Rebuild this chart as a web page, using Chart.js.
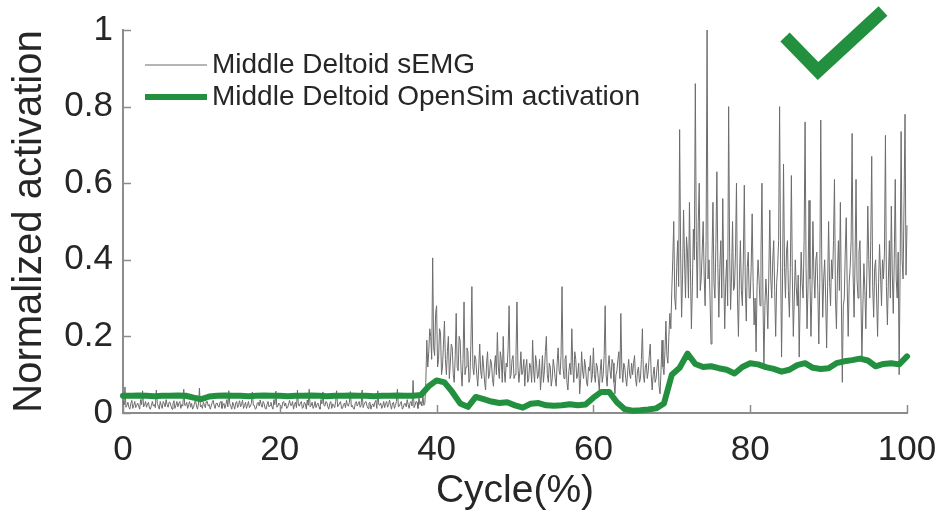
<!DOCTYPE html>
<html><head><meta charset="utf-8">
<script src="https://cdn.jsdelivr.net/npm/chart.js@4.4.1/dist/chart.umd.min.js"></script>
<style>html,body{margin:0;padding:0;background:#fff;overflow:hidden}canvas{display:block}</style>
</head><body>
<canvas id="c" width="943" height="517"></canvas>
<script>
// ---------- data ----------
const seriesNames = ['Middle Deltoid sEMG', 'Middle Deltoid OpenSim activation'];
const xTickLabels = ['0', '20', '40', '60', '80', '100'];
const yTickLabels = ['0', '0.2', '0.4', '0.6', '0.8', '1'];
const xTitle = 'Cycle(%)';
const yTitle = 'Normalized activation';

// sEMG samples, evenly spaced over 0..100 % of the cycle (8 per 1 %)
const semgValues = [
  // 0 - 38 %
  0.03,0.022,0.068,0.015,0.02,0.028,0.015,0.01, 0.025,0.033,0.012,0.02,0.03,0.014,0.02,0.026, 0.018,0.01,0.035,0.022,0.058,0.016,0.02,0.03, 0.015,0.024,0.028,0.012,0.01,0.02,0.03,0.018,
  0.022,0.014,0.06,0.025,0.018,0.01,0.03,0.02, 0.012,0.03,0.025,0.016,0.035,0.022,0.015,0.028, 0.028,0.018,0.01,0.024,0.032,0.012,0.02,0.03, 0.016,0.025,0.03,0.012,0.022,0.018,0.062,0.02,
  0.02,0.028,0.012,0.022,0.03,0.015,0.025,0.01, 0.015,0.026,0.034,0.018,0.01,0.024,0.065,0.016, 0.02,0.012,0.028,0.022,0.014,0.03,0.03,0.018, 0.022,0.01,0.018,0.027,0.033,0.02,0.012,0.025,
  0.026,0.018,0.015,0.028,0.03,0.012,0.02,0.025, 0.012,0.022,0.035,0.016,0.058,0.024,0.018,0.01, 0.028,0.02,0.01,0.026,0.03,0.014,0.022,0.032, 0.016,0.024,0.033,0.012,0.02,0.028,0.012,0.02,
  0.03,0.014,0.018,0.025,0.055,0.02,0.02,0.01, 0.012,0.026,0.028,0.018,0.034,0.022,0.015,0.03, 0.025,0.012,0.01,0.022,0.03,0.016,0.02,0.028, 0.016,0.01,0.035,0.022,0.057,0.015,0.018,0.026,
  0.022,0.016,0.012,0.028,0.03,0.018,0.026,0.012, 0.014,0.024,0.033,0.02,0.02,0.03,0.01,0.022, 0.028,0.014,0.06,0.02,0.018,0.026,0.03,0.012, 0.015,0.028,0.025,0.01,0.034,0.02,0.062,0.016,
  0.02,0.028,0.012,0.018,0.03,0.014,0.022,0.026, 0.016,0.01,0.035,0.024,0.055,0.02,0.018,0.03, 0.028,0.016,0.01,0.025,0.03,0.012,0.024,0.02, 0.014,0.03,0.058,0.016,0.02,0.026,0.03,0.012,
  0.012,0.022,0.026,0.014,0.033,0.02,0.018,0.028, 0.056,0.016,0.02,0.012,0.01,0.025,0.03,0.018, 0.024,0.03,0.015,0.02,0.06,0.014,0.022,0.028, 0.03,0.018,0.012,0.026,0.028,0.01,0.02,0.024,
  0.016,0.028,0.033,0.012,0.058,0.022,0.02,0.026, 0.012,0.018,0.03,0.014,0.025,0.03,0.015,0.022, 0.034,0.02,0.01,0.026,0.028,0.012,0.02,0.03, 0.062,0.016,0.018,0.025,0.03,0.01,0.014,0.024,
  0.025,0.016,0.035,0.022,0.012,0.028,0.03,0.018, 0.085,0.014,0.02,0.03,0.028,0.012,0.04,0.022,
  // 38 - 41 %
  0.03,0.018,0.045,0.02,0.025,0.08,0.19,0.12, 0.16,0.22,0.2,0.14,0.405,0.17,0.15,0.26,
  0.28,0.12,0.14,0.22,0.21,0.1,0.12,0.18,
  // 41 - 45 %
  0.24,0.14,0.1,0.16,0.2,0.09,0.13,0.18, 0.17,0.1,0.08,0.15,0.26,0.12,0.11,0.2, 0.19,0.11,0.07,0.14,0.29,0.1,0.12,0.17, 0.16,0.08,0.09,0.18,0.33,0.12,0.1,0.15,
  // 45 - 50 %
  0.14,0.1,0.07,0.12,0.18,0.11,0.09,0.15, 0.12,0.08,0.06,0.13,0.16,0.09,0.1,0.14, 0.13,0.09,0.07,0.12,0.15,0.1,0.21,0.12, 0.09,0.16,0.14,0.08,0.2,0.11,0.08,0.13, 0.12,0.17,0.28,0.09,0.1,0.14,0.15,0.09,
  // 50 - 55 %
  0.1,0.15,0.29,0.12,0.08,0.11,0.16,0.1, 0.11,0.14,0.07,0.12,0.14,0.08,0.09,0.13, 0.12,0.08,0.19,0.11,0.08,0.15,0.13,0.09, 0.1,0.14,0.06,0.1,0.15,0.08,0.11,0.16, 0.2,0.1,0.08,0.13,0.12,0.07,0.09,0.14,
  // 55 - 60 %
  0.12,0.09,0.07,0.13,0.17,0.11,0.1,0.15, 0.33,0.12,0.09,0.14,0.15,0.08,0.06,0.11, 0.13,0.1,0.22,0.12,0.08,0.16,0.14,0.09, 0.1,0.13,0.05,0.09,0.16,0.11,0.09,0.14, 0.12,0.08,0.07,0.12,0.11,0.15,0.08,0.1,
  // 60 - 65 %
  0.17,0.1,0.08,0.13,0.12,0.09,0.06,0.11, 0.14,0.08,0.1,0.15,0.28,0.1,0.07,0.12, 0.15,0.11,0.09,0.14,0.13,0.08,0.05,0.1, 0.11,0.14,0.16,0.09,0.26,0.12,0.08,0.13, 0.12,0.09,0.07,0.11,0.14,0.1,0.09,0.13,
  // 65 - 70 %
  0.1,0.13,0.15,0.09,0.07,0.11,0.12,0.08, 0.09,0.14,0.22,0.1,0.08,0.12,0.13,0.09, 0.11,0.15,0.18,0.1,0.06,0.1,0.12,0.08, 0.09,0.12,0.14,0.07,0.05,0.11,0.19,0.12, 0.1,0.16,0.24,0.15,0.13,0.2,0.26,0.22,
  // 70 - 100 %
  0.32,0.4,0.5,0.3,0.27,0.38,0.45,0.33, 0.74,0.42,0.25,0.36,0.53,0.4,0.3,0.46,
  0.42,0.3,0.55,0.38,0.22,0.33,0.48,0.4, 0.86,0.45,0.3,0.5,0.6,0.32,0.35,0.42,
  0.5,0.36,0.28,0.45,1.0,0.35,0.4,0.3, 0.18,0.4,0.55,0.34,0.3,0.44,0.63,0.38,
  0.25,0.38,0.45,0.3,0.56,0.36,0.22,0.34, 0.4,0.28,0.8,0.42,0.27,0.36,0.5,0.32,
  0.33,0.42,0.6,0.3,0.2,0.35,0.45,0.32, 0.28,0.4,0.595,0.33,0.24,0.38,0.42,0.3,
  0.3,0.38,0.52,0.34,0.23,0.3,0.16,0.33, 0.4,0.35,0.28,0.42,0.6,0.3,0.12,0.28,
  0.35,0.3,0.22,0.36,0.53,0.35,0.3,0.4, 0.45,0.32,0.2,0.34,0.38,0.45,0.8,0.4,
  0.146,0.35,0.65,0.38,0.3,0.42,0.45,0.32, 0.25,0.38,0.62,0.36,0.2,0.3,0.4,0.33,
  0.28,0.36,0.146,0.3,0.42,0.34,0.3,0.45, 0.76,0.38,0.22,0.33,0.555,0.35,0.2,0.32,
  0.5,0.36,0.3,0.4,0.42,0.32,0.18,0.34, 0.765,0.4,0.25,0.35,0.4,0.3,0.17,0.33,
  0.5,0.34,0.28,0.4,0.35,0.45,0.61,0.3, 0.22,0.36,0.45,0.32,0.55,0.3,0.08,0.28,
  0.3,0.42,0.51,0.33,0.2,0.34,0.38,0.45, 0.73,0.36,0.25,0.4,0.61,0.35,0.3,0.42,
  0.45,0.3,0.14,0.28,0.39,0.32,0.22,0.36, 0.54,0.4,0.3,0.45,0.67,0.33,0.25,0.38,
  0.4,0.3,0.2,0.34,0.44,0.36,0.28,0.4, 0.35,0.42,0.725,0.33,0.23,0.35,0.45,0.3,
  0.54,0.36,0.26,0.4,0.61,0.35,0.3,0.42, 0.1,0.38,0.735,0.4,0.35,0.55,0.78,0.36,
  0.49
];

// OpenSim activation, one sample per 1 % of the cycle (0..100)
const activationValues = [
  0.045,0.045,0.046,0.045,0.044,0.045,0.045,0.046,0.045,0.04,
  0.036,0.043,0.045,0.046,0.045,0.045,0.044,0.045,0.046,0.045,
  0.045,0.044,0.045,0.045,0.046,0.045,0.044,0.045,0.045,0.046,
  0.045,0.045,0.044,0.045,0.045,0.046,0.045,0.045,0.047,0.07,
  0.085,0.08,0.055,0.025,0.016,0.042,0.036,0.03,0.026,0.028,
  0.02,0.014,0.024,0.026,0.02,0.019,0.02,0.023,0.02,0.022,
  0.04,0.055,0.055,0.028,0.01,0.006,0.007,0.009,0.012,0.025,
  0.1,0.118,0.155,0.128,0.12,0.122,0.117,0.113,0.103,0.12,
  0.13,0.127,0.12,0.115,0.108,0.113,0.125,0.13,0.118,0.115,
  0.117,0.13,0.135,0.138,0.142,0.137,0.122,0.128,0.13,0.127,
  0.148
];

// ---------- styles ----------
const FONT = "'Liberation Sans', Arial, Helvetica, sans-serif";
const TEXT = '#262626';
const AXIS = '#8c8c8c';
const GREEN = '#22903f';
const GRAY = '#6c6c6c';

const semgPoints = semgValues.map((v, i) => ({x: i * 100 / (semgValues.length - 1), y: v}));
const actPoints = activationValues.map((v, i) => ({x: i * 100 / (activationValues.length - 1), y: v}));

const decor = {
  id: 'decor',
  afterDatasetsDraw(chart) {
    const {ctx, chartArea: a, scales: {x, y}} = chart;
    ctx.save();
    // inward tick marks
    ctx.strokeStyle = AXIS; ctx.lineWidth = 1.5;
    ctx.beginPath();
    x.ticks.forEach(t => { const px = Math.round(x.getPixelForValue(t.value)) + 0.5; ctx.moveTo(px, a.bottom); ctx.lineTo(px, a.bottom - 8); });
    y.ticks.forEach(t => { const py = Math.round(y.getPixelForValue(t.value)) + 0.5; ctx.moveTo(a.left, py); ctx.lineTo(a.left + 8, py); });
    ctx.stroke();
    // legend (inside, top-left)
    const ds = chart.data.datasets;
    const lx0 = a.left + 22, lx1 = a.left + 84, tx = a.left + 89;
    const rows = [a.top + 35, a.top + 67];
    ctx.font = '28px ' + FONT; ctx.fillStyle = TEXT; ctx.textBaseline = 'middle'; ctx.textAlign = 'left';
    ds.forEach((d, i) => {
      ctx.strokeStyle = d.borderColor; ctx.lineWidth = d.borderWidth; ctx.lineCap = 'butt';
      ctx.beginPath(); ctx.moveTo(lx0, rows[i]); ctx.lineTo(lx1, rows[i]); ctx.stroke();
      ctx.fillText(d.label, tx, rows[i]);
    });
    // check mark decoration
    ctx.strokeStyle = GREEN; ctx.lineWidth = 13; ctx.lineCap = 'butt'; ctx.lineJoin = 'miter';
    ctx.beginPath();
    ctx.moveTo(a.right - 122, a.top + 7);
    ctx.lineTo(a.right - 89, a.top + 41);
    ctx.lineTo(a.right - 24, a.top - 19);
    ctx.stroke();
    ctx.restore();
  }
};

new Chart(document.getElementById('c'), {
  type: 'line',
  data: {
    datasets: [
      {label: seriesNames[0], data: semgPoints, borderColor: GRAY, borderWidth: 1, pointRadius: 0, tension: 0, order: 2, clip: 10},
      {label: seriesNames[1], data: actPoints, borderColor: GREEN, borderWidth: 6, pointRadius: 0, tension: 0, order: 1, clip: 10,
       borderCapStyle: 'round', borderJoinStyle: 'round'}
    ]
  },
  options: {
    responsive: false, animation: false, devicePixelRatio: 1,
    layout: {padding: {left: 0, right: 36, top: 30, bottom: 0}},
    plugins: {legend: {display: false}, tooltip: {enabled: false}},
    scales: {
      x: {
        type: 'linear', min: 0, max: 100,
        afterFit: s => { s.height = 104; s.paddingLeft = 0; s.paddingRight = 0; },
        grid: {display: false, drawTicks: false},
        border: {display: true, color: AXIS, width: 2},
        ticks: {stepSize: 20, autoSkip: false, maxRotation: 0, padding: 16, color: TEXT,
                font: {family: FONT, size: 35}, callback: (v, i) => xTickLabels[i]},
        title: {display: true, text: xTitle, color: TEXT, font: {family: FONT, size: 39}, padding: {top: 0, bottom: 2}}
      },
      y: {
        type: 'linear', min: 0, max: 1,
        afterFit: s => { s.width = 123; s.paddingTop = 0; s.paddingBottom = 0; },
        grid: {display: false, drawTicks: false},
        border: {display: true, color: AXIS, width: 2},
        ticks: {stepSize: 0.2, autoSkip: false, padding: 10, color: TEXT,
                font: {family: FONT, size: 35}, callback: (v, i) => yTickLabels[i]},
        title: {display: true, text: yTitle, color: TEXT, font: {family: FONT, size: 40}, padding: {top: 6, bottom: 0}}
      }
    }
  },
  plugins: [decor]
});
</script>
</body></html>
